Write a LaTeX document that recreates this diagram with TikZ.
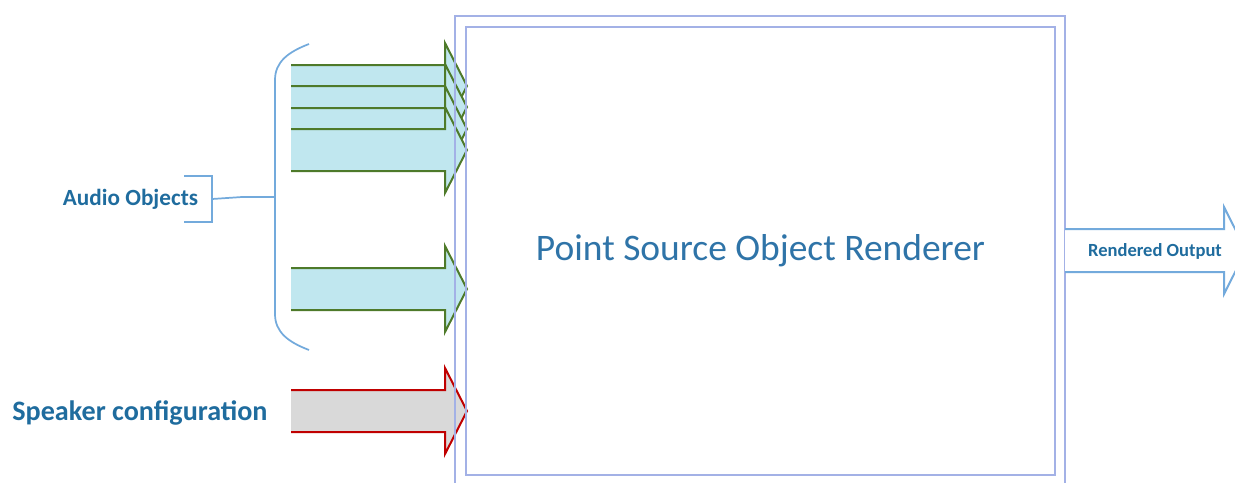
\documentclass[tikz,border=0pt]{standalone}
\usepackage{fontspec}
\setmainfont{Carlito}
\usepackage{xcolor}
\usetikzlibrary{positioning}

\definecolor{objline}{HTML}{4E7A2A}
\definecolor{objfill}{HTML}{C0E7EF}
\definecolor{spkline}{HTML}{C00000}
\definecolor{spkfill}{HTML}{D9D9D9}
\definecolor{boxline}{HTML}{A3B1E6}
\definecolor{braceline}{HTML}{73AADC}
\definecolor{labeltext}{HTML}{1F6C9E}
\definecolor{titletext}{HTML}{2F74A8}

% block arrow into the renderer, #1 style, #2 centre y
\newcommand{\inarrow}[2]{%
  \draw[#1] (291,#2-21) -- (445,#2-21) -- (445,#2-43) -- (467,#2)
    -- (445,#2+43) -- (445,#2+21) -- (291,#2+21);}

\begin{document}
\begin{tikzpicture}[x=0.75pt,y=-0.75pt,
  objarrow/.style={draw=objline,fill=objfill,line width=1.5pt,line join=miter},
  spkarrow/.style={draw=spkline,fill=spkfill,line width=1.5pt,line join=miter},
  lbl/.style={font=\bfseries,text=labeltext,inner sep=0pt}]
\clip (0,0) rectangle (1235,482);

% audio object arrows
\foreach \yc in {86,107,129,150,289} {\inarrow{objarrow}{\yc}}
% speaker configuration arrow
\inarrow{spkarrow}{411}

% renderer box
\node (renderer) [draw=boxline,line width=1.5pt,minimum width=441.75pt,minimum height=336pt,
  inner sep=0pt,font=\fontsize{28.1}{30}\selectfont,text=titletext] at (760.5,251)
  {Point Source Object Renderer};
\draw[boxline,line width=1.5pt] (455,500) -- (455,16) -- (1065,16) -- (1065,500);

% rendered output arrow
\coordinate (outstart) at (1065,229);
\draw[draw=braceline,fill=white,line width=1.5pt,line join=miter] (outstart) -- (1224,229) -- (1224,207)
  -- (1246,250.5) -- (1224,294) -- (1224,272) -- (1065,272);
\node (output) [lbl,font=\fontsize{13.9}{16}\bfseries] at (1155,251) {Rendered Output};

% brace round the audio objects
\draw[braceline,line width=1.3pt] (309,44) .. controls (288,52) and (275,62) .. (275,80)
  -- (275,314) .. controls (275,332) and (288,342) .. (309,350);
\coordinate (bracemid) at (275,197);
\coordinate (brackmid) at (212,199);
\draw[braceline,line width=1.3pt] (bracemid) -- (242,197) -- (brackmid);
\draw[braceline,line width=1.3pt] (184,176) -- (212,176) -- (212,222) -- (184,222);

\node (audio) [lbl,font=\fontsize{17.4}{20}\bfseries] at (130.5,199) {Audio Objects};
\node (speaker) [lbl,font=\fontsize{21.1}{24}\bfseries] at (140,413) {Speaker configuration};
\end{tikzpicture}
\end{document}
